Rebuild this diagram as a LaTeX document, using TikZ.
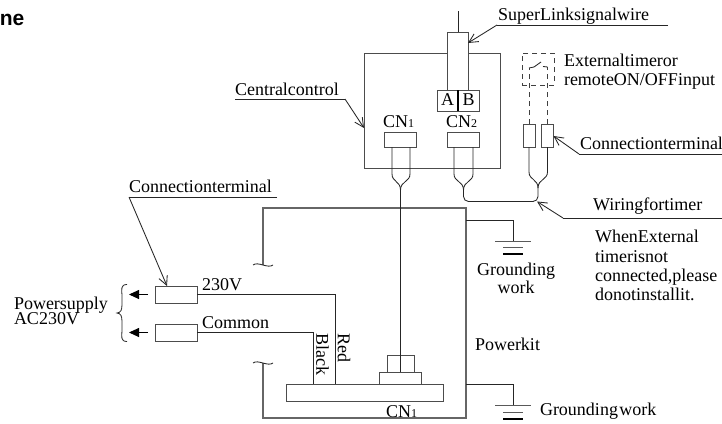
\documentclass[tikz,border=0pt]{standalone}
\usepackage{fontspec}
\setmainfont{Liberation Serif}
\newfontfamily\headfont{Liberation Sans}
\usetikzlibrary{arrows.meta,calc}
\newcommand{\subn}[1]{{\fontsize{12}{12}\selectfont #1}}
\tikzset{
  x=1pt,y=-1pt,
  wire/.style={draw=black!85,line width=0.85pt},
  heavy/.style={draw=black!60,line width=1.2pt},
  boxst/.style={draw=black!70,line width=1pt,fill=white,inner sep=0pt,outer sep=0pt},
  dashline/.style={draw=black!75,line width=0.85pt,dash pattern=on 5pt off 4pt},
  leader/.style={draw=black!85,line width=0.85pt,-{Straight Barb[length=9pt,width=9pt]}},
  solidarrow/.style={draw=black,line width=0.9pt,-{Triangle[length=10pt,width=9pt]}},
  txt/.style={font=\fontsize{18}{18}\selectfont,inner sep=0pt,outer sep=0pt,anchor=base west},
  txtc/.style={font=\fontsize{18}{18}\selectfont,inner sep=0pt,outer sep=0pt,anchor=base},
  plate/.style={draw=black!65,line width=1pt},
}
\begin{document}
\begin{tikzpicture}
\useasboundingbox[fill=white] (0,0) rectangle (722,423);
% heading fragment
\node[inner sep=0pt,anchor=base east,font=\headfont\bfseries\fontsize{21}{21}\selectfont] (head) at (24.5,25) {ne};

% central control
\node[boxst,fill=none,minimum width=136pt,minimum height=115pt] (central) at (432,110.5) {};
\node[boxst,minimum width=21pt,minimum height=58pt] (sig) at (457.5,61) {};
\node[boxst,minimum width=42pt,minimum height=21pt] (ab) at (458,100.5) {};
\draw[draw=black,line width=1.2pt] (ab.north) -- (ab.south);
\node[txtc] (la) at (447.5,105.5) {A};
\node[txtc] (lb) at (468.5,105.5) {B};
\node[boxst,minimum width=32pt,minimum height=15pt] (cn1) at (400,139.5) {};
\node[boxst,minimum width=32pt,minimum height=15pt] (cn2) at (463,139.5) {};
\node[txt] (cn1l) at (383,127) {CN\subn{1}};
\node[txt] (cn2l) at (446,127) {CN\subn{2}};
\coordinate (sigtop) at (458,11);
\draw[wire] (sigtop) -- (sig.north -| sigtop);

% merge points
\coordinate (m1) at (400.5,190);
\coordinate (m2) at (463.5,190);
\coordinate (m3) at (538,188);

% timer
\node[draw=black!75,line width=0.85pt,dash pattern=on 5pt off 4pt,inner sep=0pt,minimum width=32pt,minimum height=32pt] (timer) at (538,69) {};
\node[boxst,minimum width=12pt,minimum height=23pt] (t1) at (529,135.5) {};
\node[boxst,minimum width=12pt,minimum height=23pt] (t2) at (547.5,135.5) {};
\coordinate (sw1) at (529,68);
\coordinate (sw2) at (547.5,67);
\draw[dashline] (t1.north) -- (sw1);
\draw[dashline] (t2.north) -- (sw2);
\draw[wire] (sw1) -- (534,67) -- (541,62);
\draw[wire] (543,66.5) -- (sw2);

% forked wires
\draw[wire] (392,147) -- (392,174) .. controls (392,182) and (400.5,181) .. (m1);
\draw[wire] (410,147) -- (410,174) .. controls (410,182) and (400.5,181) .. (m1);
\draw[wire] (454,147) -- (454,174) .. controls (454,182) and (463.5,181) .. (m2);
\draw[wire] (473,147) -- (473,174) .. controls (473,182) and (463.5,181) .. (m2);
\draw[wire] (t1.south) -- (529,172) .. controls (529,180) and (538,179) .. (m3);
\draw[wire] (t2.south) -- (547.5,172) .. controls (547.5,180) and (538,179) .. (m3);
\draw[wire,rounded corners=5pt] (m2) -- (463.5,201.5) -- (533,201.5);
\draw[wire,rounded corners=5pt] (m3) -- (538,201.5) -- (533,201.5);

% power kit
\coordinate (pkA) at (263,265);
\coordinate (pkB) at (263,363);
\draw[heavy] (pkA) -- (263,208) -- (466,208) -- (466,418) -- (263,418) -- (pkB);
\draw[wire] (253,265) .. controls (258,261) and (268,269) .. (273,265);
\draw[wire] (253,363) .. controls (258,359) and (268,367) .. (273,363);

% CN1 of power kit
\node[boxst,minimum width=157pt,minimum height=17pt] (bar) at (364.5,392.5) {};
\node[boxst,minimum width=42pt,minimum height=12pt] (mid) at (400,378) {};
\node[boxst,minimum width=27pt,minimum height=17pt,fill=none] (top) at (400.5,363.5) {};
\draw[wire] (m1) -- (400.5,372);
\node[txt] (cn1b) at (386,417) {CN\subn{1}};

% terminals
\node[boxst,minimum width=42pt,minimum height=17pt] (p1) at (176,294.5) {};
\node[boxst,minimum width=42pt,minimum height=17pt] (p2) at (176,332.5) {};
\node[txt] (v230) at (202,290) {230V};
\node[txt] (comm) at (202,328) {Common};
\draw[wire] (p1.east) -- (335,294.5) -- (335,384);
\draw[wire] (p2.east) -- (313,332.5) -- (313,384);
\node[font=\fontsize{18}{18}\selectfont,inner sep=0pt,rotate=-90,anchor=north west] (red) at (350.5,333) {Red};
\node[font=\fontsize{18}{18}\selectfont,inner sep=0pt,rotate=-90,anchor=north west] (black) at (329,333) {Black};
\coordinate (a1) at (129,294.5);
\coordinate (a2) at (129,332.5);
\draw[solidarrow] (148,294.5) -- (a1);
\draw[solidarrow] (148,332.5) -- (a2);
\draw[wire,line width=0.8pt] (127,284.5) .. controls (120,284.5) and (122,290) .. (122,296) -- (122,304)
  .. controls (122,310) and (121,312.5) .. (117,313) .. controls (121,313.5) and (122,316) .. (122,322) -- (122,330)
  .. controls (122,336) and (120,341.5) .. (127,341.5);
\node[txt] (ps) at (14,309) {Powersupply};
\node[txt] (ac) at (14,324) {AC230V};

% grounds
\coordinate (g1) at (513,241);
\draw[wire] (466,220) -- (513,220) -- (g1);
\draw[plate] (495,241) -- (531,241);
\draw[plate] (503,247) -- (523,247);
\draw[draw=black,line width=1.3pt] (503,254) -- (523,254);
\coordinate (g2) at (513,405);
\draw[wire] (466,384) -- (513,384) -- (g2);
\draw[plate] (495,405) -- (531,405);
\draw[plate] (503,412) -- (523,412);
\draw[draw=black,line width=1.3pt] (503,419) -- (523,419);
\node[txtc] (gw1) at (516,275) {Grounding};
\node[txtc] (gw2) at (516,293) {work};
\node[txt] (gw3) at (540,415) {Grounding\hspace{1.5pt}work};
\node[txt] (pk) at (475,350) {Powerkit};

% labels and leaders
\node[txt] (slabel) at (498,20) {SuperLinksignalwire};
\draw[wire] (668,25) -- (497,25);
\draw[leader] (497,25) -- (sig.east |- 0,43);
\node[txt] (clabel) at (235,95) {Centralcontrol};
\draw[wire] (345,99) -- (235,99);
\draw[leader] (345,99) -- (central.west |- 0,128);
\node[txt] (tl1) at (564,66) {Externaltimeror};
\node[txt] (tl2) at (564,85) {remoteON/OFFinput};
\node[txt] (ctr) at (580,149) {Connectionterminal};
\draw[wire] (722,154) -- (579,154);
\draw[leader] (579,154) -- (t2.east |- 0,136);
\node[txt] (ctl) at (129,192) {Connectionterminal};
\draw[wire] (277,197) -- (129,197);
\draw[leader] (129,197) -- (p1.north -| 167,0);
\node[txt] (wt) at (593,210) {Wiringfortimer};
\draw[wire] (722,218) -- (563,218);
\draw[leader] (563,218) -- (537,201.5);
\node[txt] (n1) at (595,242) {WhenExternal};
\node[txt] (n2) at (595,262) {timerisnot};
\node[txt] (n3) at (595,281) {connected,please};
\node[txt] (n4) at (595,300) {donotinstallit.};
\end{tikzpicture}
\end{document}
